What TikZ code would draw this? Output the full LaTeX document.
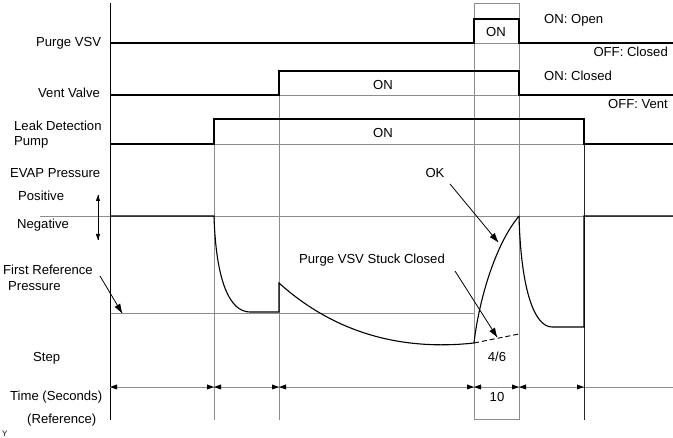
\documentclass[tikz,border=0pt]{standalone}
\usepackage{fontspec}
\setmainfont{Liberation Sans}
\usetikzlibrary{decorations.markings}
\begin{document}
\begin{tikzpicture}[x=1pt,y=1pt,
  sig/.style={line width=1.3pt,black},
  grid/.style={line width=0.7pt,black!45},
  axis/.style={line width=0.9pt,black},
  lbl/.style={font=\fontsize{13.1}{15}\selectfont,inner sep=0pt},
  endtip/.style={postaction={decorate,decoration={markings,
     mark=at position 1 with {\fill[black] (0,0) -- (-#1,0.36*#1) -- (-#1,-0.36*#1) -- cycle;}}}},
  starttip/.style={postaction={decorate,decoration={markings,
     mark=at position 0 with {\fill[black] (0,0) -- (#1,0.36*#1) -- (#1,-0.36*#1) -- cycle;}}}},
  dim/.style={grid,starttip=7,endtip=7},
  pointer/.style={line width=0.8pt,endtip=9},
  dbl/.style={line width=0.7pt,starttip=6,endtip=6}]
\useasboundingbox (0,-438) rectangle (673,0);
% grid lines
\draw[grid] (474,-43) -- (519,-43);
\draw[grid] (279,-95) -- (519,-95);
\draw[grid] (214,-144) -- (584,-144);
\draw[grid] (40,-216) -- (673,-216);
\draw[grid] (110,-313) -- (474,-313);
\draw[grid] (214,-119) -- (214,-420);
\draw[grid] (279,-71) -- (279,-420);
\draw[grid] (474,-3) rectangle (519,-419);
\draw[grid] (584,-387) -- (673,-387);
% axes
\draw[axis] (110,-3) -- (110,-420);
\draw[line width=0.7pt,black!85] (584,-119) -- (584,-420);
% time dims
\coordinate (t0) at (110,-387);
\coordinate (t1) at (214,-387);
\coordinate (t2) at (279,-387);
\coordinate (t3) at (474,-387);
\coordinate (t4) at (519,-387);
\coordinate (t5) at (584,-387);
\draw[dim] (t0) -- (t1);
\draw[dim] (t1) -- (t2);
\draw[dim] (t2) -- (t3);
\draw[dim] (t3) -- (t4);
\draw[dim] (t4) -- (t5);
% signals
\draw[sig] (110,-43) -- (474,-43) -- (474,-19) -- (519,-19) -- (519,-43) -- (673,-43);
\draw[sig] (110,-95) -- (279,-95) -- (279,-71) -- (519,-71) -- (519,-95) -- (673,-95);
\draw[sig] (110,-144) -- (214,-144) -- (214,-119) -- (584,-119) -- (584,-144) -- (673,-144);
% pressure
\draw[sig,line width=1.1pt] (110,-216) -- (214,-216)
  .. controls (216,-282) and (230,-312) .. (250,-312) -- (279,-312) -- (279,-283)
  .. controls (340,-338) and (410,-350) .. (474,-343);
\draw[sig,line width=1.1pt] (474,-343) .. controls (479,-300) and (495,-245) .. (519,-216);
\draw[line width=0.9pt,dash pattern=on 5pt off 3pt] (474,-343) -- (519,-334);
\draw[sig,line width=1.1pt] (519,-216) .. controls (521,-292) and (535,-327) .. (552,-327)
  -- (584,-327) -- (584,-216) -- (673,-216);
% labels
\node[lbl,anchor=west] (pv) at (36,-43) {Purge VSV};
\node[lbl,anchor=west] (vv) at (38,-93) {Vent Valve};
\node[lbl,anchor=west] (ldp1) at (14,-126) {Leak Detection};
\node[lbl,anchor=west] (ldp2) at (14,-142) {Pump};
\node[lbl,anchor=west] (evap) at (10,-173) {EVAP Pressure};
\node[lbl,anchor=west] (pos) at (18,-196) {Positive};
\node[lbl,anchor=west] (neg) at (17,-225) {Negative};
\node[lbl,anchor=west] (fr1) at (3,-270) {First Reference};
\node[lbl,anchor=west] (fr2) at (8,-286) {Pressure};
\node[lbl,anchor=west] (step) at (33,-358) {Step};
\node[lbl,anchor=west] (time) at (10,-397) {Time (Seconds)};
\node[lbl,anchor=west] (ref) at (27,-420) {(Reference)};
\node[font=\fontsize{8}{9}\selectfont,inner sep=0pt,anchor=west] (yy) at (2,-434) {Y};
\node[lbl] (on1) at (496,-32) {ON};
\node[lbl,anchor=west] (onopen) at (544,-20) {ON: Open};
\node[lbl,anchor=east] (offc) at (668,-52) {OFF: Closed};
\node[lbl] (on2) at (383,-85) {ON};
\node[lbl,anchor=west] (onc) at (544,-76) {ON: Closed};
\node[lbl,anchor=east] (offv) at (668,-104) {OFF: Vent};
\node[lbl] (on3) at (383,-133) {ON};
\node[lbl] (ok) at (435,-173) {OK};
\node[lbl] (stuck) at (372,-260) {Purge VSV Stuck Closed};
\node[lbl] (st46) at (497,-357) {4/6};
\node[lbl] (ten) at (497,-397) {10};
% pointers
\coordinate (dA) at (98,-195);
\coordinate (dB) at (98,-240);
\draw[dbl] (dA) -- (dB);
\coordinate (frs) at (100,-276);
\coordinate (fre) at (122,-313);
\draw[pointer] (frs) -- (fre);
\coordinate (oks) at (450,-184);
\coordinate (oke) at (498,-242);
\draw[pointer] (oks) -- (oke);
\coordinate (sts) at (455,-271);
\coordinate (ste) at (497,-337);
\draw[pointer] (sts) -- (ste);
\end{tikzpicture}
\end{document}
